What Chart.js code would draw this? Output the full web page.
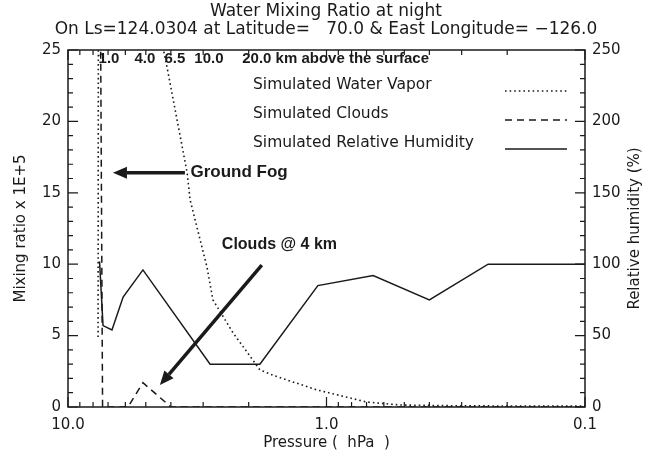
<!DOCTYPE html>
<html>
<head>
<meta charset="utf-8">
<script src="https://cdn.jsdelivr.net/npm/chart.js@4.4.1/dist/chart.umd.min.js"></script>
<style>
    html, body { margin: 0; padding: 0; background: #fff; }
</style>
</head>
<body>
<canvas id="graficoMistura" width="652" height="460"></canvas>
<script>
// pressure levels (hPa) and the three profiles
const vaporPressure = [7.65, 7.6, 4.5, 4.14, 3.46, 3.37, 2.9, 2.75, 2.3, 1.81, 1.6, 1.09, 0.7, 0.52, 0.3, 0.1];
const vaporValues = [4.9, 60, 27, 23.8, 16.4, 14.5, 9.8, 7.5, 5.2, 2.6, 2.2, 1.2, 0.35, 0.14, 0.08, 0.06];

const cloudPressure = [7.55, 7.35, 5.86, 5.13, 4.0, 0.1];
const cloudValues = [40, 0, 0, 1.7, 0, 0];

const humidityPressure = [7.55, 7.32, 6.76, 6.12, 5.13, 2.82, 1.81, 1.08, 0.66, 0.40, 0.237, 0.1];
const humidityValues = [102, 57, 54, 77, 96, 30, 30, 85, 92, 75, 100, 100];

const pressureTicks = [10, 1, 0.1];
const pressureMinor = [9, 8, 7, 6, 5, 4, 3, 2, 0.9, 0.8, 0.7, 0.6, 0.5, 0.4, 0.3, 0.2];

// altitude marks along the top edge
const altitudeKm = ['1.0', '4.0', '6.5', '10.0', '20.0'];
const altitudePressure = [6.94, 5.04, 3.86, 2.85, 1.86];

const titleLines = [
    'Water Mixing Ratio at night',
    'On Ls=124.0304 at Latitude=   70.0 & East Longitude= \u2212126.0'
];

const ink = '#1a1a1a';
const thinFont = '"DejaVu Sans", sans-serif';
const boldFont = '"Liberation Sans", Arial, sans-serif';

const pontos = (px, vals) => px.map((p, i) => ({ x: p, y: vals[i] }));

// arrows with their notes, in data units (pressure, mixing ratio)
const notas = [
    { text: 'Ground Fog', size: 17, at: [3.36, 16.4], from: [3.53, 16.4], to: [6.70, 16.4] },
    { text: 'Clouds @ 4 km', size: 16, at: [2.54, 11.4], from: [1.78, 9.94], to: [4.41, 1.54] }
];

const molduraPlugin = {
    id: 'moldura',
    afterDraw(chart) {
        const { ctx, chartArea: a, scales } = chart;
        const { x, y, y1 } = scales;
        ctx.save();
        ctx.strokeStyle = ink;
        ctx.lineWidth = 1.5;
        ctx.strokeRect(a.left, a.top, a.right - a.left, a.bottom - a.top);

        ctx.lineWidth = 1.2;
        ctx.beginPath();
        // axis ticks, all pointing inward
        for (let v = 0; v <= 25; v++) {
            const py = y.getPixelForValue(v);
            const len = v % 5 === 0 ? 10 : 5;
            ctx.moveTo(a.left, py); ctx.lineTo(a.left + len, py);
        }
        for (let v = 0; v <= 250; v += 10) {
            const py = y1.getPixelForValue(v);
            const len = v % 50 === 0 ? 10 : 5;
            ctx.moveTo(a.right, py); ctx.lineTo(a.right - len, py);
        }
        pressureTicks.concat(pressureMinor).forEach(p => {
            const px = x.getPixelForValue(p);
            const len = pressureTicks.includes(p) ? 10 : 5;
            ctx.moveTo(px, a.bottom); ctx.lineTo(px, a.bottom - len);
            ctx.moveTo(px, a.top); ctx.lineTo(px, a.top + len);
        });
        ctx.stroke();

        // title
        ctx.fillStyle = ink;
        ctx.textAlign = 'center';
        ctx.textBaseline = 'middle';
        ctx.font = '17px ' + thinFont;
        ctx.fillText(titleLines[0], chart.width / 2, 12);
        ctx.fillText(titleLines[1], chart.width / 2, 30);

        // right axis title, read bottom to top
        ctx.save();
        ctx.translate(635, (a.top + a.bottom) / 2);
        ctx.rotate(-Math.PI / 2);
        ctx.font = '15px ' + thinFont;
        ctx.fillText('Relative humidity (%)', 0, 0);
        ctx.restore();

        // altitude labels
        ctx.font = 'bold 15px ' + boldFont;
        altitudeKm.forEach((km, i) => {
            const px = x.getPixelForValue(altitudePressure[i]);
            ctx.textAlign = 'center';
            ctx.fillText(km, px, a.top + 9);
            if (i === altitudeKm.length - 1) {
                const w = ctx.measureText(km).width;
                ctx.textAlign = 'left';
                ctx.fillText(' km above the surface', px + w / 2, a.top + 9);
            }
        });

        // legend
        ctx.font = '15.5px ' + thinFont;
        ctx.textAlign = 'left';
        chart.data.datasets.forEach((ds, i) => {
            const ty = a.top + 35 + i * 29;
            ctx.fillText(ds.label, a.left + 185, ty);
            ctx.beginPath();
            ctx.setLineDash(ds.borderDash || []);
            ctx.lineWidth = ds.borderWidth;
            ctx.moveTo(a.left + 437, ty + 6);
            ctx.lineTo(a.left + 499, ty + 6);
            ctx.stroke();
        });
        ctx.setLineDash([]);

        // arrows
        notas.forEach(n => {
            const x0 = x.getPixelForValue(n.from[0]), y0 = y.getPixelForValue(n.from[1]);
            const x1 = x.getPixelForValue(n.to[0]), y1p = y.getPixelForValue(n.to[1]);
            const ang = Math.atan2(y1p - y0, x1 - x0);
            const head = 14, half = 6;
            const bx = x1 - head * Math.cos(ang), by = y1p - head * Math.sin(ang);
            ctx.lineWidth = 3.5;
            ctx.beginPath();
            ctx.moveTo(x0, y0); ctx.lineTo(bx, by);
            ctx.stroke();
            ctx.beginPath();
            ctx.moveTo(x1, y1p);
            ctx.lineTo(bx + half * Math.sin(ang), by - half * Math.cos(ang));
            ctx.lineTo(bx - half * Math.sin(ang), by + half * Math.cos(ang));
            ctx.closePath();
            ctx.fill();
            ctx.font = 'bold ' + n.size + 'px ' + boldFont;
            ctx.textAlign = 'left';
            ctx.fillText(n.text, x.getPixelForValue(n.at[0]), y.getPixelForValue(n.at[1]));
        });
        ctx.restore();
    }
};

const tickFont = { family: thinFont, size: 15 };
const semGrade = { display: false, drawTicks: false };

new Chart(document.getElementById('graficoMistura'), {
    type: 'line',
    data: {
        datasets: [
            {
                label: 'Simulated Water Vapor',
                data: pontos(vaporPressure, vaporValues),
                yAxisID: 'y',
                borderColor: ink,
                borderWidth: 1.6,
                borderDash: [1.6, 3],
                pointRadius: 0
            },
            {
                label: 'Simulated Clouds',
                data: pontos(cloudPressure, cloudValues),
                yAxisID: 'y',
                borderColor: ink,
                borderWidth: 1.5,
                borderDash: [7, 5],
                pointRadius: 0
            },
            {
                label: 'Simulated Relative Humidity',
                data: pontos(humidityPressure, humidityValues),
                yAxisID: 'y1',
                borderColor: ink,
                borderWidth: 1.5,
                pointRadius: 0
            }
        ]
    },
    options: {
        responsive: false,
        animation: false,
        layout: { padding: { top: 50, left: 0, right: 0, bottom: 0 } },
        plugins: { legend: { display: false }, tooltip: { enabled: false } },
        scales: {
            x: {
                type: 'logarithmic',
                reverse: true,
                min: 0.1,
                max: 10,
                grid: semGrade,
                border: { display: false },
                afterBuildTicks: s => { s.ticks = pressureTicks.map(v => ({ value: v })); },
                afterFit: s => { s.height = 53; },
                ticks: {
                    font: tickFont, color: ink, padding: 9,
                    maxRotation: 0, autoSkip: false,
                    callback: v => Number(v).toFixed(1)
                },
                title: {
                    display: true, text: 'Pressure (  hPa  )', color: ink,
                    font: { family: thinFont, size: 15 }, padding: { top: 0, bottom: 8 }
                }
            },
            y: {
                position: 'left',
                min: 0, max: 25,
                grid: semGrade,
                border: { display: false },
                afterFit: s => { s.width = 68; },
                ticks: { stepSize: 5, font: tickFont, color: ink, padding: 7 },
                title: {
                    display: true, text: 'Mixing ratio x 1E+5', color: ink,
                    font: { family: thinFont, size: 15 }, padding: { top: 12, bottom: 0 }
                }
            },
            y1: {
                position: 'right',
                min: 0, max: 250,
                grid: semGrade,
                border: { display: false },
                afterFit: s => { s.width = 67; },
                ticks: { stepSize: 50, font: tickFont, color: ink, padding: 7 }
            }
        }
    },
    plugins: [molduraPlugin]
});
</script>
</body>
</html>
